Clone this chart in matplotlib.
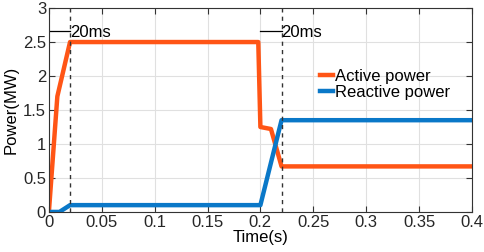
import numpy as np
import matplotlib
matplotlib.use("Agg")
import matplotlib.pyplot as plt

plt.rcParams['font.family'] = ['Liberation Sans', 'DejaVu Sans']

# data
t_active = [0, 0.008, 0.02, 0.198, 0.2, 0.21, 0.22, 0.4]
p_active = [0, 1.7, 2.5, 2.5, 1.25, 1.22, 0.67, 0.67]
t_reactive = [0, 0.01, 0.02, 0.2, 0.22, 0.4]
p_reactive = [0, 0, 0.1, 0.1, 1.35, 1.35]

marks_x = [0.02, 0.22]
bar_start = [0.0, 0.2]
bar_y = 2.66

fs = 12

fig = plt.figure(figsize=(4.84, 2.52), dpi=100)
ax = fig.add_axes([0.101, 0.159, 0.874, 0.809])

ax.plot(t_active, p_active, color='#FF5516', lw=3.2, label='Active power')
ax.plot(t_reactive, p_reactive, color='#0A78C8', lw=3.2, label='Reactive power')

for xs, xm in zip(bar_start, marks_x):
    ax.axvline(xm, color='#333333', ls=(0, (3, 3)), lw=1.0)
    ax.plot([xs, xm], [bar_y, bar_y], color='black', lw=0.9)
    ax.text(xm, bar_y - 0.02, '20ms', fontsize=fs, ha='left', va='center')

ax.set_xlim(0, 0.4)
ax.set_ylim(0, 3)
ax.set_xticks([0, 0.05, 0.1, 0.15, 0.2, 0.25, 0.3, 0.35, 0.4])
ax.set_xticklabels(['0', '0.05', '0.1', '0.15', '0.2', '0.25', '0.3', '0.35', '0.4'])
ax.set_yticks([0, 0.5, 1, 1.5, 2, 2.5, 3])
ax.set_yticklabels(['0', '0.5', '1', '1.5', '2', '2.5', '3'])
ax.grid(True, color='#E0E0E0', lw=0.8)
ax.set_axisbelow(True)
ax.tick_params(direction='in', top=True, right=True, labelsize=fs, length=4, pad=2,
               colors='#333333', labelcolor='#262626')
for s in ax.spines.values():
    s.set_color('#333333')
ax.set_xlabel('Time(s)', fontsize=fs, labelpad=0)
ax.set_ylabel('Power(MW)', fontsize=fs, labelpad=3)

ax.legend(loc='upper left', bbox_to_anchor=(0.625, 0.735), frameon=False, fontsize=fs,
          handlelength=0.8, handletextpad=0.1, labelspacing=0.05, borderaxespad=0)

fig.savefig('out.png', dpi=100)
